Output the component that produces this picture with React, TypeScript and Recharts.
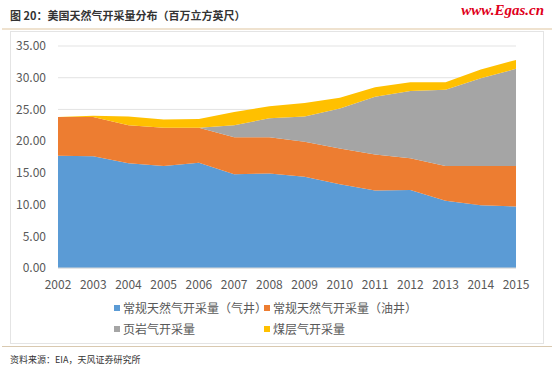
import { AreaChart, Area, XAxis, YAxis, CartesianGrid } from 'recharts';

const years = ['2002', '2003', '2004', '2005', '2006', '2007', '2008', '2009', '2010', '2011', '2012', '2013', '2014', '2015'];
const gasWells = [17.7, 17.6, 16.5, 16.1, 16.6, 14.8, 14.9, 14.4, 13.2, 12.2, 12.3, 10.6, 9.9, 9.7];
const oilWells = [6.1, 6.2, 6.0, 6.0, 5.5, 5.8, 5.7, 5.5, 5.65, 5.7, 5.0, 5.5, 6.2, 6.4];
const shaleGas = [0, 0, 0, 0, 0, 1.9, 3.0, 4.0, 6.3, 9.1, 10.6, 12.0, 13.8, 15.3];
const coalBed = [0, 0.2, 1.4, 1.3, 1.4, 2.1, 1.9, 2.1, 1.7, 1.5, 1.4, 1.2, 1.4, 1.4];
const yTicks = [0, 5, 10, 15, 20, 25, 30, 35];

const series = [
  { key: 'gas', name: '常规天然气开采量（气井）', color: '#5B9BD5', values: gasWells },
  { key: 'oil', name: '常规天然气开采量（油井）', color: '#ED7D31', values: oilWells },
  { key: 'shale', name: '页岩气开采量', color: '#A5A5A5', values: shaleGas },
  { key: 'coal', name: '煤层气开采量', color: '#FFC000', values: coalBed },
];

const data = years.map((year, i) => {
  const row: any = { year };
  series.forEach((s) => (row[s.key] = s.values[i]));
  return row;
});

const font = '"Noto Sans CJK SC", "Noto Sans", sans-serif';

export default function App() {
  return (
    <div style={{ position: 'absolute', left: 0, top: 0, width: 554, height: 374, background: '#fff', fontFamily: font }}>
      <div style={{ position: 'absolute', left: 10, top: 7, fontSize: 11, fontWeight: 'bold', color: '#333' }}>
        图 20：美国天然气开采量分布（百万立方英尺）
      </div>
      <div style={{ position: 'absolute', right: 10, top: 2, fontSize: 15, fontWeight: 'bold', fontStyle: 'italic', color: '#E0001B', fontFamily: '"Liberation Serif", serif' }}>
        www.Egas.cn
      </div>
      <div style={{ position: 'absolute', left: 2, top: 28, width: 550, height: 2, background: '#EFE2CF' }} />
      <div style={{ position: 'absolute', left: 10, top: 31, width: 534, height: 313, border: '1px solid #E4E4E4', boxSizing: 'border-box' }} />
      <div style={{ position: 'absolute', left: 2, top: 346, width: 550, height: 1, background: '#D9C9B0' }} />
      <div style={{ position: 'absolute', left: 10, top: 353, fontSize: 9, color: '#333' }}>
        资料来源：EIA，天风证券研究所
      </div>

      <div style={{ position: 'absolute', left: 0, top: 0 }}>
        <AreaChart width={554} height={374} data={data} margin={{ top: 46, right: 38, left: 8, bottom: 80 }}>
          <CartesianGrid vertical={false} stroke="#E3E3E3" />
          <XAxis
            dataKey="year"
            tickLine={false}
            axisLine={{ stroke: '#D9D9D9' }}
            tick={{ fill: '#595959', fontSize: 12, fontFamily: font }}
            tickMargin={6}
            interval={0}
            height={26}
          />
          <YAxis
            domain={[0, 35]}
            ticks={yTicks}
            width={50}
            tickLine={false}
            axisLine={false}
            tickMargin={6}
            tickFormatter={(v: number) => v.toFixed(2)}
            tick={{ fill: '#595959', fontSize: 12, fontFamily: font }}
          />
          {series.map((s) => (
            <Area
              key={s.key}
              type="linear"
              dataKey={s.key}
              name={s.name}
              stackId="1"
              stroke="none"
              fill={s.color}
              fillOpacity={1}
              isAnimationActive={false}
            />
          ))}
        </AreaChart>
      </div>

      {series.map((s, i) => (
        <div
          key={s.key}
          style={{
            position: 'absolute',
            left: i % 2 === 0 ? 114 : 264,
            top: i < 2 ? 299 : 320,
            fontSize: 12,
            color: '#595959',
            display: 'flex',
            alignItems: 'center',
            whiteSpace: 'nowrap',
          }}
        >
          <span style={{ display: 'inline-block', width: 6, height: 6, background: s.color, marginRight: 3 }} />
          {s.name}
        </div>
      ))}
    </div>
  );
}
